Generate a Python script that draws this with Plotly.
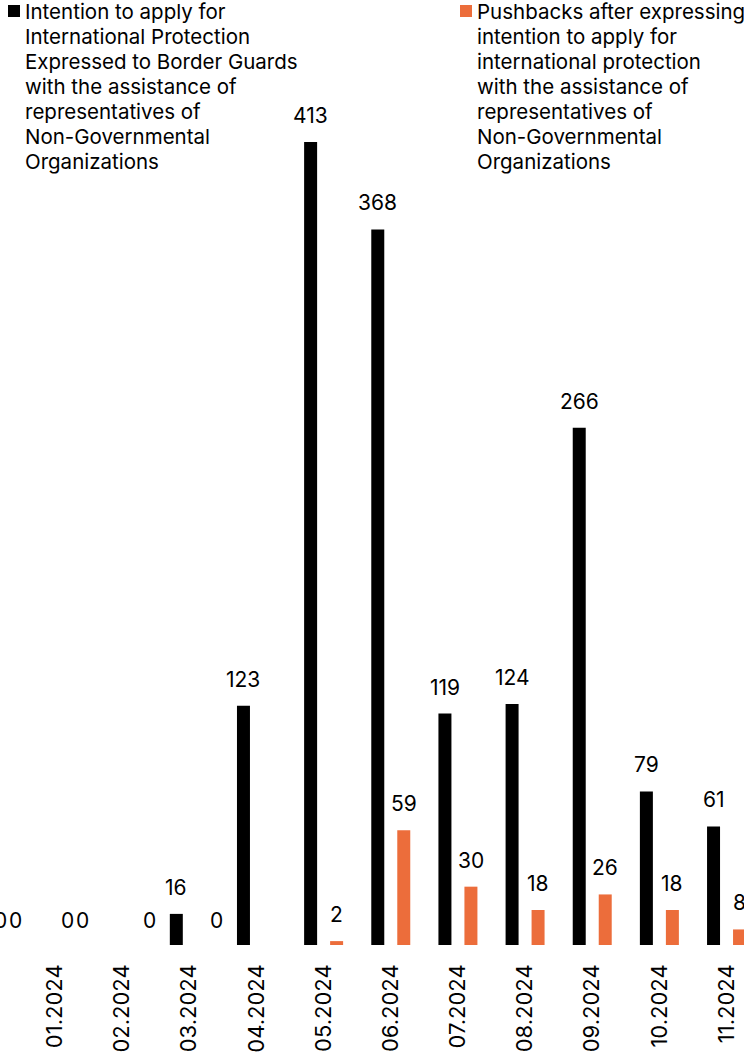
import plotly.graph_objects as go

# Monthly counts, January–November 2024
months = ["01.2024", "02.2024", "03.2024", "04.2024", "05.2024", "06.2024",
          "07.2024", "08.2024", "09.2024", "10.2024", "11.2024"]
intentions = [0, 0, 16, 123, 413, 368, 119, 124, 266, 79, 61]
pushbacks = [0, 0, 0, 0, 2, 59, 30, 18, 26, 18, 8]

intentions_lines = ["Intention to apply for", "International Protection",
                    "Expressed to Border Guards", "with the assistance of",
                    "representatives of", "Non-Governmental", "Organizations"]
pushbacks_lines = ["Pushbacks after expressing", "intention to apply for",
                   "international protection", "with the assistance of",
                   "representatives of", "Non-Governmental", "Organizations"]

BLACK = "#000000"
ORANGE = "#EC6D3B"
FONT = "Inter"

W, H = 744, 1055
PLOT_BOTTOM = 110
plot_h = H - PLOT_BOTTOM

fig = go.Figure()
fig.add_trace(go.Bar(x=months, y=intentions, marker_color=BLACK,
                     marker_line_width=0, showlegend=False,
                     name=" ".join(intentions_lines)))
fig.add_trace(go.Bar(x=months, y=pushbacks, marker_color=ORANGE,
                     marker_line_width=0, showlegend=False,
                     name=" ".join(pushbacks_lines)))

# value labels above each bar (x given as category index)
annotations = []
for vals, shift, zero_shift in ((intentions, -13, -55), (pushbacks, 13, -40)):
    for i, v in enumerate(vals):
        annotations.append(dict(
            x=i, y=v, xref="x", yref="y", text=str(v), showarrow=False,
            xanchor="center", yanchor="bottom",
            xshift=shift if v else zero_shift, yshift=12 if v else 10,
            font=dict(family=FONT, size=21, color=BLACK)))

# legend blocks, one annotation per line
LINE = 25
for x_txt, lines in ((25, intentions_lines), (477, pushbacks_lines)):
    for k, line in enumerate(lines):
        annotations.append(dict(
            x=x_txt / W, y=1 - k * LINE / plot_h, xref="paper", yref="paper",
            text=line, showarrow=False, xanchor="left", yanchor="top",
            align="left", xshift=-2, yshift=3,
            font=dict(family=FONT, size=20.5, color=BLACK)))
fig.add_shape(type="rect", xref="paper", yref="paper",
              x0=8 / W, x1=20 / W, y0=1 - 17 / plot_h, y1=1 - 5 / plot_h,
              fillcolor=BLACK, line_width=0)
fig.add_shape(type="rect", xref="paper", yref="paper",
              x0=460 / W, x1=472 / W, y0=1 - 17 / plot_h, y1=1 - 5 / plot_h,
              fillcolor=ORANGE, line_width=0)

fig.update_layout(
    width=W, height=H,
    margin=dict(l=0, r=0, t=0, b=PLOT_BOTTOM, pad=0),
    paper_bgcolor="white", plot_bgcolor="white",
    barmode="group", bargap=0.226, bargroupgap=0.5,
    annotations=annotations,
    font=dict(family=FONT, color=BLACK),
)
fig.update_xaxes(type="category", range=[-0.819, 10.26], tickangle=-90,
                 showgrid=False, showline=False, zeroline=False, ticks="",
                 ticklabelstandoff=14,
                 tickfont=dict(family=FONT, size=22, color=BLACK))
fig.update_yaxes(range=[0, 486], visible=False, showgrid=False)

fig.write_html("out.html")
